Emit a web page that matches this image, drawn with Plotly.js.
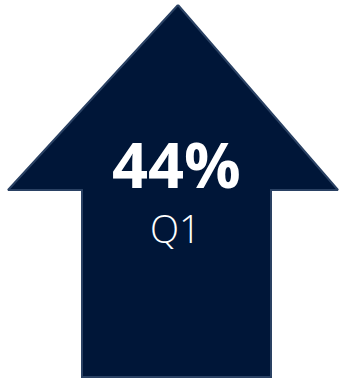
<!DOCTYPE html>
<html>
<head>
<meta charset="utf-8">
<script src="https://cdn.plot.ly/plotly-3.0.1.min.js"></script>
<style>html,body{margin:0;padding:0;background:#fff;}#chart{width:339px;height:379px;}</style>
</head>
<body>
<div id="chart"></div>
<script>
// Data
var categories = ["Q1"];
var values = [44];
var valueSuffix = "%";

// Arrow pictogram outline (in a 339 x 379 unit frame)
var arrowX = [178, 338, 271, 271, 82, 82, 8, 178];
var arrowY = [5, 190, 190, 377, 377, 190, 190, 5];

var trace = {
  type: "scatter",
  mode: "lines",
  x: arrowX,
  y: arrowY,
  fill: "toself",
  fillcolor: "#001638",
  line: {color: "#2a4163", width: 2},
  hoverinfo: "skip",
  showlegend: false
};

var layout = {
  width: 339,
  height: 379,
  margin: {l: 0, r: 0, t: 0, b: 0},
  paper_bgcolor: "#ffffff",
  plot_bgcolor: "#ffffff",
  xaxis: {range: [0, 339], visible: false, fixedrange: true},
  yaxis: {range: [379, 0], visible: false, fixedrange: true},
  annotations: [
    {x: 176, y: 163, xref: "x", yref: "y", text: "<b>" + values[0] + valueSuffix + "</b>",
     showarrow: false, font: {family: "Open Sans", size: 63, color: "#ffffff"}},
    {x: 175, y: 228, xref: "x", yref: "y", text: categories[0],
     showarrow: false, font: {family: "Open Sans", size: 38, color: "#ffffff", weight: 300}}
  ]
};

Plotly.newPlot("chart", [trace], layout, {displayModeBar: false, staticPlot: true});
</script>
</body>
</html>
